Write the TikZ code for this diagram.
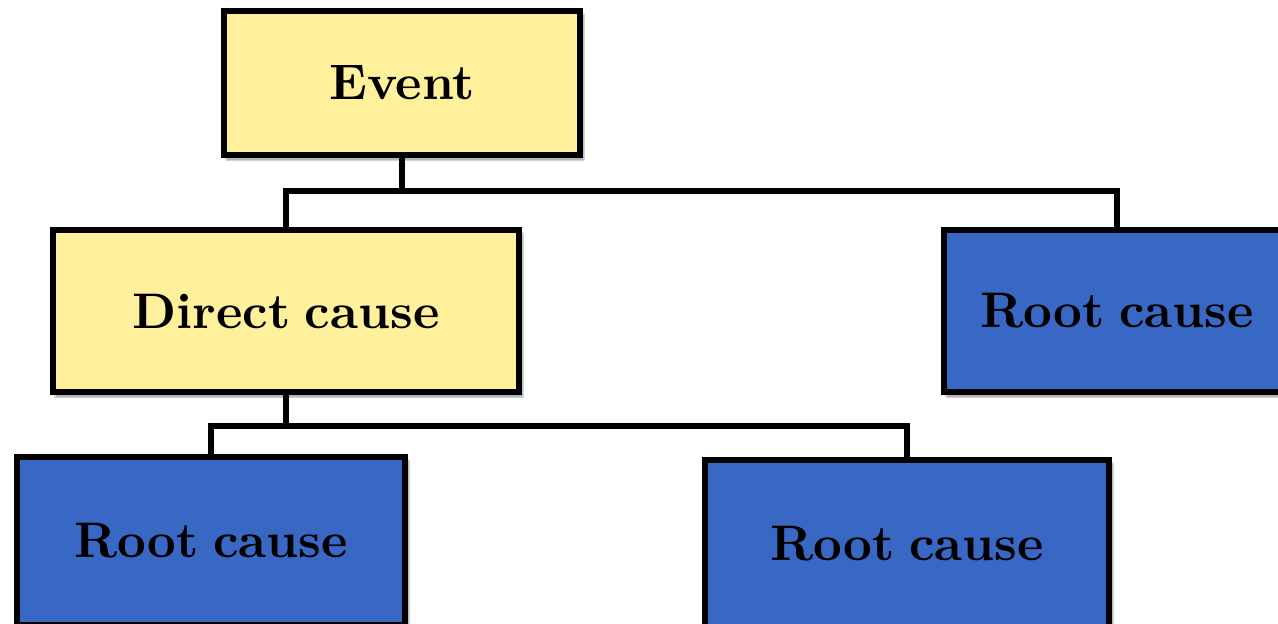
\documentclass[tikz,border=0pt]{standalone}
\usepackage{fontspec}
\newfontfamily\tenbf{lmroman10-bold}[Extension=.otf, WordSpace=0.75]
\usetikzlibrary{shadows.blur,backgrounds}
\definecolor{boxyellow}{RGB}{255,241,155}
\definecolor{boxblue}{RGB}{56,104,196}
\tikzset{
  box/.style={draw=black, line width=5.2pt, rectangle, inner sep=0pt,
    font=\tenbf\fontsize{50}{54}\selectfont, text=black,
    blur shadow={shadow xshift=3pt, shadow yshift=-4pt, shadow blur steps=6, shadow opacity=45}},
  ybox/.style={box, fill=boxyellow},
  bbox/.style={box, fill=boxblue},
  link/.style={draw=black, line width=5.2pt},
  linkshadow/.style={draw=black, opacity=0.18, line width=5pt}
}
\begin{document}
\begin{tikzpicture}[x=1pt,y=-1pt]
\useasboundingbox (0,0) rectangle (1278,624);
\clip (0,0) rectangle (1278,624);
\fill[white] (0,0) rectangle (1278,624);
\node[ybox, minimum width=356pt, minimum height=144pt] (ev) at (402,83) {Event};
\node[ybox, minimum width=466pt, minimum height=162pt] (dc) at (286,311) {Direct cause};
\node[bbox, minimum width=346pt, minimum height=162pt] (r1) at (1117,311) {Root cause};
\node[bbox, minimum width=388pt, minimum height=168pt] (r2) at (211,541) {Root cause};
\node[bbox, minimum width=404pt, minimum height=168pt] (r3) at (907,544) {Root cause};
\coordinate (j1) at (402,191);
\coordinate (j2) at (286,426);
\begin{scope}[on background layer]
\draw[linkshadow] (404,160) -- (404,194);
\draw[linkshadow] (288,228) -- (288,194) -- (1119,194) -- (1119,228);
\draw[linkshadow] (288,396) -- (288,429);
\draw[linkshadow] (213,458) -- (213,429) -- (909,429) -- (909,458);
\end{scope}
\draw[link] (ev.south) -- (j1);
\draw[link] (j1) -| (dc.north);
\draw[link] (j1) -| (r1.north);
\draw[link] (dc.south) -- (j2);
\draw[link] (j2) -| (r2.north);
\draw[link] (j2) -| (r3.north);
\end{tikzpicture}
\end{document}
